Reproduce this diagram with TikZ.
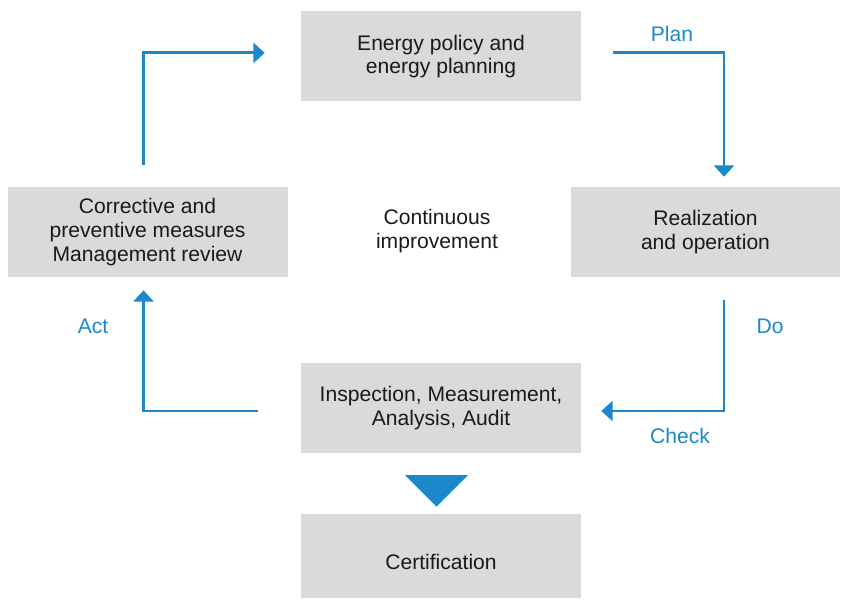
\documentclass[tikz,border=0pt]{standalone}
\usepackage{fontspec}
\setmainfont{Liberation Sans}
\usepackage{tikz}
\usetikzlibrary{shapes.geometric,arrows.meta,positioning,calc}
\definecolor{bleuCycle}{RGB}{26,136,202}
\definecolor{grisBoite}{RGB}{218,218,218}
\definecolor{texteFonce}{RGB}{26,26,26}

\begin{document}
\begin{tikzpicture}[font=\fontsize{15}{17}\selectfont,text=texteFonce,
  etape/.style={rectangle,minimum width=7cm,minimum height=2.25cm,
                align=center,fill=grisBoite,inner sep=2pt},
  flux/.style={bleuCycle,line width=2.1pt,
               -{Triangle[length=8pt,width=14pt]}},
  phase/.style={text=bleuCycle}]

  \useasboundingbox (0,0) rectangle (21.025,14.975);

  \node[etape] (politique) at (11.025,13.5625) {Energy policy and\\energy planning};
  \node[etape] (correctif) at (3.6875,9.175) {Corrective and\\preventive measures\\Management review};
  \node[etape,minimum width=6.725cm] (realisation) at (17.6375,9.175) {Realization\\and operation};
  \node[etape] (inspection) at (11.025,4.775) {Inspection, Measurement,\\Analysis, Audit};
  \node[etape,minimum height=2.1cm] (certif) at (11.025,1.075)
    {\raisebox{-0.15cm}[\height][\depth]{Certification}};

  \node[align=center] (amelioration) at (10.925,9.2) {Continuous\\improvement};

  \node[isosceles triangle,shape border rotate=-90,isosceles triangle apex angle=90,
        fill=bleuCycle,minimum width=1.575cm,inner sep=0pt,anchor=apex]
        (fleche) at (10.9125,2.3) {};

  % cycle PDCA
  \draw[flux,shorten <=0.55cm,shorten >=0.9cm]
    ([xshift=-0.1cm]correctif.north) |- ([yshift=0.09cm]politique.west);
  \draw[flux,shorten <=0.8cm,shorten >=0.25cm]
    ([yshift=0.09cm]politique.east) -| ([xshift=0.4625cm]realisation.north);
  \draw[flux,shorten <=0.575cm,shorten >=0.5cm]
    ([xshift=0.4625cm]realisation.south) |- ([yshift=-0.075cm]inspection.east);
  \draw[flux,shorten <=1.075cm,shorten >=0.325cm]
    ([yshift=-0.075cm]inspection.west) -| ([xshift=-0.1cm]correctif.south);

  \node[phase] (plan)  at (16.8,14.125) {Plan};
  \node[phase] (do)    at (19.25,6.825) {Do};
  \node[phase] (check) at (17.0,4.075)  {Check};
  \node[phase] (act)   at (2.325,6.825) {Act};
\end{tikzpicture}
\end{document}
